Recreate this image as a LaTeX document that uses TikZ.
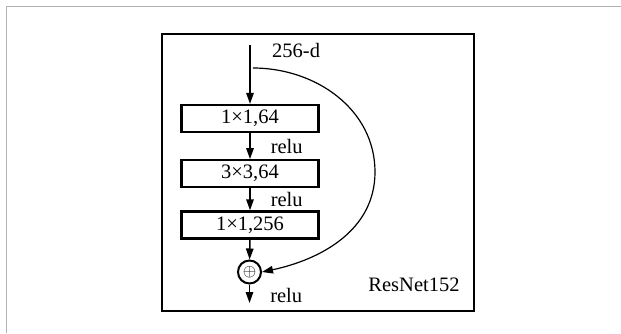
\documentclass[tikz,border=0pt]{standalone}
\usepackage{fontspec}
\setmainfont{Liberation Serif}
\usetikzlibrary{arrows.meta,positioning}
\tikzset{
  layer/.style={
    draw,
    line width=2.2pt,
    minimum width=137pt,
    minimum height=27pt,
    inner sep=0pt,
    font=\fontsize{20.5}{24}\selectfont
  },
  lbl/.style={
    inner sep=0pt,
    font=\fontsize{20.5}{24}\selectfont
  },
  sum/.style={
    draw,
    circle,
    line width=2pt,
    minimum size=23pt,
    inner sep=0pt,
    font=\fontsize{17}{20}\selectfont
  },
  arrow/.style={
    -{Triangle[length=11pt,width=7.5pt]},
    line width=1.5pt
  }
}

\begin{document}
\begin{tikzpicture}[x=1pt,y=1pt]
\useasboundingbox (0,0) rectangle (621,333);
% page edge
\draw[black!30,line width=1.3pt] (6.5,0) |- (621,326.5);
% block frame
\node[draw,line width=2.5pt,minimum width=312pt,minimum height=277pt] (frame) at (318,160.5) {};
\coordinate (in) at (250,288);
\node[layer] (conv1) at (250,214.5) {1×1,64};
\node[layer,below=26pt of conv1] (conv2) {3×3,64};
\node[layer,below=22pt of conv2] (conv3) {1×1,256};
\node[sum] (add) at (249.5,61) {\raisebox{2pt}{$\oplus$}};
\coordinate (out) at (249.5,30);
\coordinate (skip) at (253,265);
\node[lbl,right=22pt of in,yshift=-5pt] (dim) {256-d};
\node[lbl] (net) at (414,48) {ResNet152};
\draw[arrow] (in) -- (conv1);
\draw[arrow] (conv1) -- node[lbl,right=20pt] {relu} (conv2);
\draw[arrow] (conv2) -- node[lbl,right=20pt] {relu} (conv3);
\draw[arrow] (conv3) -- (add);
\draw[arrow] (add) -- node[lbl,right=20pt,yshift=-2pt] {relu} (out);
\draw[arrow,line width=1.2pt] (skip) to[out=0,in=90] (375,161) to[out=-90,in=12] (add.east);
\end{tikzpicture}
\end{document}
